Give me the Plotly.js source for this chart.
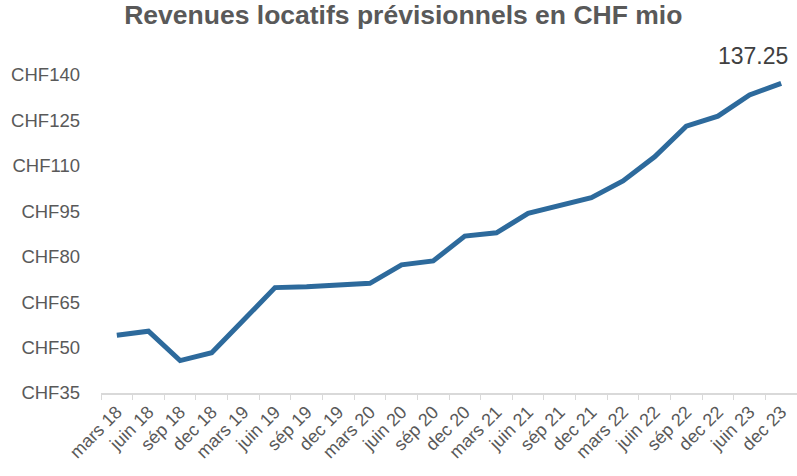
<!DOCTYPE html>
<html>
<head>
<meta charset="utf-8">
<script src="https://cdn.plot.ly/plotly-3.0.1.min.js"></script>
<style>html,body{margin:0;padding:0;background:#fff;}#chart{width:797px;height:476px;}</style>
</head>
<body>
<div id="chart"></div>
<script>
const categories = ["mars 18","juin 18","sép 18","dec 18","mars 19","juin 19","sép 19","dec 19","mars 20","juin 20","sép 20","dec 20","mars 21","juin 21","sép 21","dec 21","mars 22","juin 22","sép 22","dec 22","juin 23","dec 23"];
const revenues = [54.1,55.4,45.7,48.3,59.0,69.8,70.1,70.8,71.2,77.3,78.6,86.8,87.9,94.3,96.8,99.5,105.0,113.0,123.1,126.4,133.4,137.25];
const yTicks = [35,50,65,80,95,110,125,140];
const yTickLabels = yTicks.map(v => "CHF" + v);
const lastLabel = "137.25";

const font = "Liberation Sans, Arial, sans-serif";
const trace = {
  x: categories, y: revenues, type: "scatter", mode: "lines",
  line: {color: "#2d6a9c", width: 5}, hoverinfo: "skip", cliponaxis: false
};
const layout = {
  width: 797, height: 476,
  margin: {l: 101, r: 0, t: 75, b: 83},
  paper_bgcolor: "#fff", plot_bgcolor: "#fff",
  showlegend: false,
  title: {text: "<b>Revenues locatifs prévisionnels en CHF mio</b>", font: {family: font, size: 26.5, color: "#595959"}, x: 0.506, xanchor: "center", y: 0.988, yanchor: "top"},
  xaxis: {
    type: "category", tickangle: -45, tickson: "boundaries", ticks: "outside", ticklen: 5, tickcolor: "#d9d9d9",
    showline: true, linecolor: "#d9d9d9", linewidth: 1.5, showgrid: false, zeroline: false,
    tickfont: {family: font, size: 18, color: "#595959"}, range: [-0.5, 21.5]
  },
  yaxis: {
    range: [35, 140], tickvals: yTicks, ticktext: yTickLabels, showgrid: false, zeroline: false, showline: false,
    ticks: "", ticklabelstandoff: 20, tickfont: {family: font, size: 18.5, color: "#595959"}
  },
  annotations: [{
    x: categories[categories.length - 1], y: revenues[revenues.length - 1], text: lastLabel, showarrow: false,
    xanchor: "center", yanchor: "bottom", xshift: -28, yshift: 12,
    font: {family: font, size: 23, color: "#404040"}
  }]
};
Plotly.newPlot("chart", [trace], layout, {staticPlot: true, displayModeBar: false});
</script>
</body>
</html>
